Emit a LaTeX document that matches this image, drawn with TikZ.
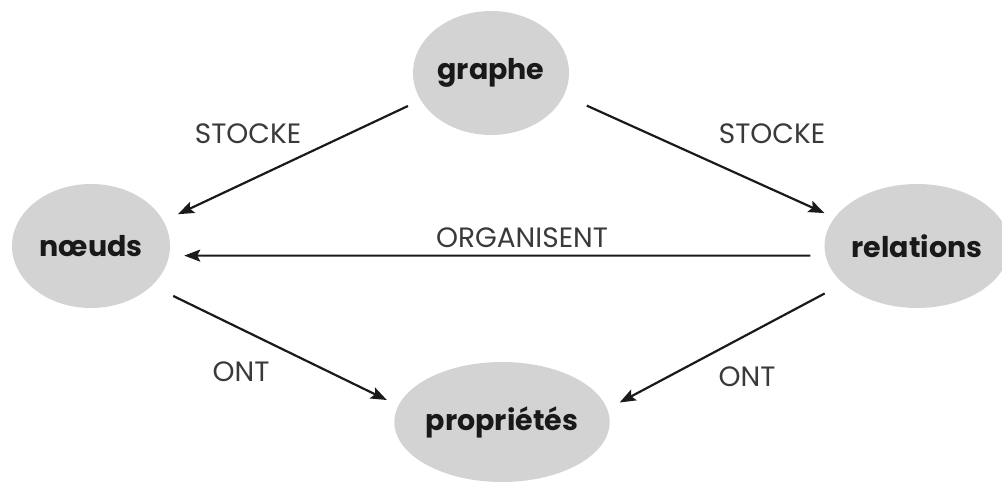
\documentclass[tikz,border=0pt]{standalone}
\usepackage{fontspec}
\setmainfont{Poppins}
\usetikzlibrary{shapes.geometric,arrows.meta}
\definecolor{nodefill}{HTML}{D3D3D3}
\definecolor{linecol}{HTML}{1A1A1A}
\definecolor{labcol}{HTML}{3A3A3A}
\tikzset{
  ent/.style={ellipse, fill=nodefill, inner sep=0pt, font=\fontsize{28.5}{32}\selectfont\bfseries, text=black!90},
  arr/.style={draw=linecol, line width=2.2pt, -{Stealth[length=16pt,width=12pt,inset=3pt]}},
  lab/.style={font=\fontsize{28}{32}\selectfont, text=labcol, inner sep=0pt}
}
\begin{document}
\begin{tikzpicture}[x=1pt,y=-1pt]
\useasboundingbox (0,0) rectangle (1002,482);
\node[ent, minimum width=156pt, minimum height=124pt] (graphe) at (491,73) {graphe};
\node[ent, minimum width=158pt, minimum height=124pt] (noeuds) at (91,246) {nœuds};
\node[ent, minimum width=168pt, minimum height=124pt] (relations) at (917,246) {relations};
\node[ent, minimum width=188pt, minimum height=120pt] (proprietes) at (502,422) {propriétés};

\draw[arr, shorten <=14pt, shorten >=16pt] (graphe.201.1) -- (noeuds.19.6);
\draw[arr, shorten <=25pt, shorten >=11pt] (graphe.343.4) -- (relations.161.6);
\draw[arr, shorten <=15pt, shorten >=15pt] (relations.186.4) -- (noeuds.353.3);
\draw[arr, shorten <=23.6pt, shorten >=12.7pt] (noeuds.327.3) -- (proprietes.171.3);
\draw[arr, shorten <=21pt, shorten >=14pt] (relations.207.9) -- (proprietes.7.5);

\node[lab] (l1) at (248,134) {STOCKE};
\node[lab] (l2) at (772,134) {STOCKE};
\node[lab] (l3) at (522,238) {ORGANISENT};
\node[lab] (l4) at (241,372) {ONT};
\node[lab] (l5) at (747,377) {ONT};
\end{tikzpicture}
\end{document}
